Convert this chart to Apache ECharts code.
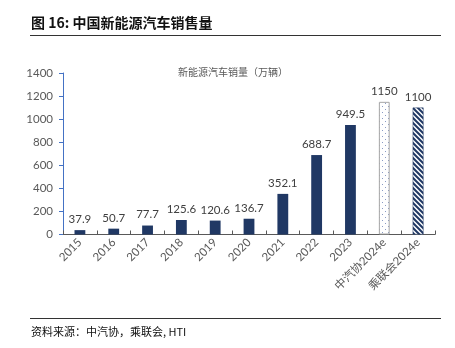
<!DOCTYPE html>
<html><head><meta charset="utf-8">
<script src="https://cdn.jsdelivr.net/npm/echarts@6/dist/echarts.min.js"></script>
<style>
html,body{margin:0;padding:0;background:#fff;}
#wrap{position:relative;width:455px;height:348px;font-family:Lato,"Noto Sans CJK SC",sans-serif;}
#hdr{position:absolute;left:31px;top:12px;font-size:14px;font-weight:bold;color:#111;font-family:"Noto Sans CJK SC",sans-serif;}
#l1{position:absolute;left:30px;top:35px;width:411px;height:1px;background:#333;}
#l2{position:absolute;left:30px;top:318px;width:411px;height:1px;background:#333;}
#ftr{position:absolute;left:31px;top:323px;font-size:11px;color:#111;font-family:"Noto Sans CJK SC",sans-serif;}
#chart{position:absolute;left:0;top:0;width:455px;height:348px;}
</style></head>
<body><div id="wrap">
<div id="chart"></div>
<div id="hdr">图 16: 中国新能源汽车销售量</div>
<div id="l1"></div><div id="l2"></div>
<div id="ftr">资料来源：中汽协，乘联会, HTI</div>
</div>
<script>
const categories = ['2015','2016','2017','2018','2019','2020','2021','2022','2023','中汽协2024e','乘联会2024e'];
const sales = [37.9, 50.7, 77.7, 125.6, 120.6, 136.7, 352.1, 688.7, 949.5, 1150, 1100];
const yTicks = [0, 200, 400, 600, 800, 1000, 1200, 1400];
const chartTitle = '新能源汽车销量（万辆）';

function dotPattern(){
  const c = document.createElement('canvas'); c.width = 6; c.height = 6;
  const g = c.getContext('2d');
  g.fillStyle = '#fff'; g.fillRect(0,0,6,6);
  g.fillStyle = '#8a9bc4';
  g.fillRect(1,1,1,1); g.fillRect(4,4,1,1);
  return c;
}
function stripePattern(){
  const s = 5;
  const c = document.createElement('canvas'); c.width = s; c.height = s;
  const g = c.getContext('2d');
  g.fillStyle = '#fff'; g.fillRect(0,0,s,s);
  g.strokeStyle = '#203864'; g.lineWidth = 2;
  g.beginPath();
  g.moveTo(-1,-1); g.lineTo(s+1,s+1);
  g.moveTo(-1-s,-1); g.lineTo(1,s+1);
  g.moveTo(s-1,-1); g.lineTo(2*s+1,s+1);
  g.stroke();
  return c;
}

const navy = '#203864';
const data = sales.map((v,i)=>{
  if (i === 9) return {value:v, itemStyle:{color:{image:dotPattern(),repeat:'repeat'}, borderColor:'#a6a6a6', borderWidth:1}};
  if (i === 10) return {value:v, itemStyle:{color:{image:stripePattern(),repeat:'repeat'}, borderColor:'#203864', borderWidth:0.5}};
  return {value:v, itemStyle:{color:navy}};
});

const chart = echarts.init(document.getElementById('chart'));
chart.setOption({
  animation:false,
  textStyle:{fontFamily:'Lato, "Noto Sans CJK SC", sans-serif'},
  title:{text:chartTitle,left:228,top:62,textAlign:'center',
    textStyle:{fontSize:10,fontWeight:'normal',color:'#595959',fontFamily:'"Noto Sans CJK SC", sans-serif'}},
  grid:{left:63,right:20,top:73,bottom:113.5,containLabel:false},
  xAxis:{type:'category',data:categories,
    axisLine:{lineStyle:{color:'#595959',width:1}},
    axisTick:{show:true,inside:true,length:4,alignWithLabel:false,lineStyle:{color:'#595959'}},
    axisLabel:{rotate:45,fontSize:11.5,color:'#595959',margin:6,interval:0,
      fontFamily:'Lato, "Noto Sans CJK SC", sans-serif'}},
  yAxis:{type:'value',min:0,max:1400,interval:200,
    axisLine:{show:true,lineStyle:{color:'#4472c4',width:1}},
    axisTick:{show:true,inside:false,length:4,lineStyle:{color:'#4472c4'}},
    splitLine:{show:false},
    axisLabel:{fontSize:11.5,color:'#595959',margin:10,
      formatter:v=>yTicks.includes(v)?String(v):''}},
  series:[{type:'bar',data:data,barWidth:'32%',
    label:{show:true,position:'top',distance:5,fontSize:11.5,color:'#404040',
      formatter:p=>String(sales[p.dataIndex])}}]
});
</script>
</body></html>
